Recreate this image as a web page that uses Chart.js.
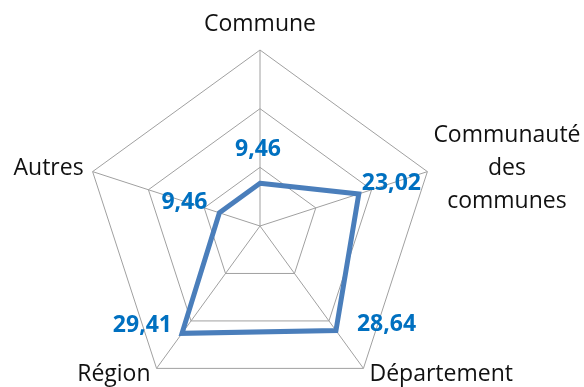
<!DOCTYPE html>
<html>
<head>
<meta charset="utf-8">
<script src="https://cdn.jsdelivr.net/npm/chart.js@4/dist/chart.umd.min.js"></script>
<style>
  body { margin: 0; background: #fff; overflow: hidden; }
</style>
</head>
<body>
<canvas id="radarChart" width="584" height="410"></canvas>
<script>
// Categories and values (percentages)
const categories = ['Commune', ['Communauté', 'des', 'communes'], 'Département', 'Région', 'Autres'];
const values = [9.46, 23.02, 28.64, 29.41, 9.46];

// Radial axis range
const axisMax = 39;
const axisStep = 13;

// Where each value label sits relative to its point (dx, dy, align)
const valueLabelPlacement = [
    { dx: -2, dy: -34, align: 'center' },
    { dx: 3, dy: -10, align: 'left' },
    { dx: 21, dy: -6, align: 'left' },
    { dx: -10, dy: -8, align: 'right' },
    { dx: -12, dy: -10, align: 'right' }
];

function formatValue(v) {
    return v.toFixed(2).replace('.', ',');
}

// Category names around the outer ring
const axisLabels = {
    id: 'axisLabels',
    afterDraw(chart) {
        const scale = chart.scales.r;
        const ctx = chart.ctx;
        const lineH = 33;
        ctx.save();
        ctx.font = '23px "Open Sans"';
        ctx.fillStyle = '#111';
        ctx.textBaseline = 'middle';
        chart.data.labels.forEach((label, i) => {
            const lines = Array.isArray(label) ? label : [label];
            const pt = scale.getPointPosition(i, scale.drawingArea);
            const dx = pt.x - scale.xCenter;
            const widest = Math.max(...lines.map(l => ctx.measureText(l).width));
            let x, y;
            if (Math.abs(dx) < 1) {
                ctx.textAlign = 'center';
                x = pt.x;
                y = pt.y - 26;
            } else if (pt.y < scale.yCenter) {
                ctx.textAlign = 'center';
                x = dx > 0 ? pt.x + 6 + widest / 2 : pt.x - 9 - widest / 2;
                y = pt.y - 3 - (lines.length - 1) * lineH / 2;
            } else {
                ctx.textAlign = dx > 0 ? 'left' : 'right';
                x = dx > 0 ? pt.x + 6 : pt.x - 6;
                y = pt.y + 6;
            }
            lines.forEach((line, k) => ctx.fillText(line, x, y + k * lineH));
        });
        ctx.restore();
    }
};

// Value labels next to each point
const valueLabels = {
    id: 'valueLabels',
    afterDatasetsDraw(chart) {
        const ctx = chart.ctx;
        const meta = chart.getDatasetMeta(0);
        ctx.save();
        ctx.font = 'bold 23px "Open Sans"';
        ctx.fillStyle = '#0070c0';
        ctx.textBaseline = 'middle';
        meta.data.forEach((point, i) => {
            const p = valueLabelPlacement[i];
            ctx.textAlign = p.align;
            ctx.fillText(formatValue(chart.data.datasets[0].data[i]), point.x + p.dx, point.y + p.dy);
        });
        ctx.restore();
    }
};

new Chart(document.getElementById('radarChart'), {
    type: 'radar',
    data: {
        labels: categories,
        datasets: [{
            data: values,
            borderColor: '#4a7ebb',
            borderWidth: 5,
            borderJoinStyle: 'miter',
            backgroundColor: 'transparent',
            fill: false,
            pointRadius: 0,
            pointHoverRadius: 0
        }]
    },
    options: {
        responsive: false,
        animation: false,
        layout: {
            padding: { left: 84, right: 148, top: 50, bottom: 8 }
        },
        plugins: {
            legend: { display: false },
            tooltip: { enabled: false }
        },
        scales: {
            r: {
                min: 0,
                max: axisMax,
                ticks: { display: false, stepSize: axisStep },
                grid: { color: '#a0a0a0', lineWidth: 1 },
                angleLines: { color: '#a0a0a0', lineWidth: 1 },
                pointLabels: { display: false }
            }
        }
    },
    plugins: [axisLabels, valueLabels]
});
</script>
</body>
</html>
